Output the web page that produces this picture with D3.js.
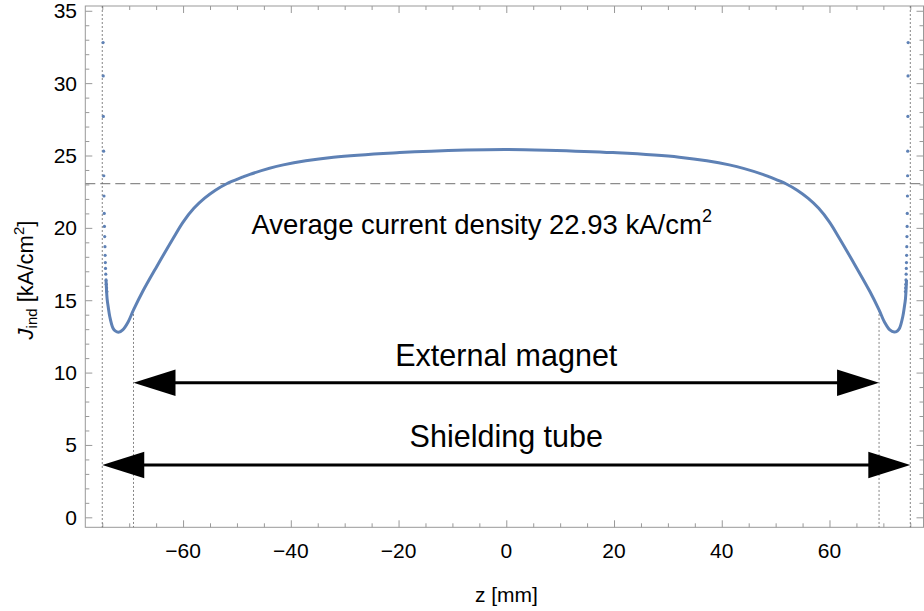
<!DOCTYPE html>
<html>
<head>
<meta charset="utf-8">
<script src="https://cdn.jsdelivr.net/npm/d3@7"></script>
<style>
  body { margin: 0; background: #fff; }
  svg { display: block; font-family: "Liberation Sans", Arial, sans-serif; }
</style>
</head>
<body>
<div id="vis"></div>
<script>
// frame
const FRAME_WIDTH = 924;
const FRAME_HEIGHT = 611;
const PLOT = {left: 85.3, right: 923.5, top: 6, bottom: 527.3};

// data
// main curve, z in mm, J in kA/cm^2
const curveZ = [-74.3, -74.1, -73.9, -73.6, -73.0, -72.6, -72.0, -71.2, -70.2, -69.2, -67.5, -64.9, -61.8, -60.0, -58.0, -56.0, -54.0, -51.9, -49.0, -47.6, -41.4, -32.1, -19.8, -7.4, 0,
                7.4, 19.8, 32.1, 41.4, 47.6, 49.0, 51.9, 54.0, 56.0, 58.0, 60.0, 61.8, 64.9, 67.5, 69.2, 70.2, 71.2, 72.0, 72.6, 73.0, 73.6, 73.9, 74.1, 74.3];
const curveJ = [16.4, 15.1, 14.55, 13.86, 13.06, 12.88, 12.78, 12.95, 13.5, 14.33, 15.6, 17.32, 19.3, 20.4, 21.35, 22.05, 22.6, 23.05, 23.5, 23.7, 24.35, 24.88, 25.2, 25.38, 25.42,
                25.37, 25.2, 24.88, 24.35, 23.7, 23.5, 23.05, 22.6, 22.05, 21.35, 20.4, 19.3, 17.32, 15.6, 14.33, 13.5, 12.95, 12.8, 12.88, 13.06, 13.86, 14.55, 15.1, 16.4];

// sparse sample points close to the tube walls
const wallJ = [32.8, 30.5, 27.7, 25.3, 23.6, 22.2, 21.0, 20.1, 19.4, 18.7, 18.1, 17.6, 17.2, 16.8, 16.4, 16.1, 15.85, 15.6];
const leftWallZ = [-74.85, -74.82, -74.8, -74.75, -74.72, -74.68, -74.63, -74.6, -74.55, -74.5, -74.47, -74.43, -74.4, -74.35, -74.3, -74.25, -74.2, -74.15];
const rightWallZ = [74.6, 74.58, 74.55, 74.52, 74.5, 74.47, 74.44, 74.41, 74.38, 74.35, 74.32, 74.29, 74.26, 74.23, 74.2, 74.17, 74.14, 74.1];

const averageJ = 23.05;
const averageLabel = "Average current density 22.93 kA/cm";

// tube ends and magnet ends
const tubeEnds = [-75, 75];
const magnetEnds = [-69.2, 69.2];
const magnetEndJ = 14.33;

const arrowLabels = ["External magnet", "Shielding tube"];
const arrowFrom = [-69.2, -75];
const arrowTo = [69.2, 75];
const arrowJ = [9.3, 3.61];
const arrowLabelJ = [10.44, 4.84];

const xTicks = [-60, -40, -20, 0, 20, 40, 60];
const yTicks = [0, 5, 10, 15, 20, 25, 30, 35];

const BLUE = "#5e81b5";
const FRAME_GRAY = "#999";

const svg = d3.select("#vis")
  .append("svg")
    .attr("width", FRAME_WIDTH)
    .attr("height", FRAME_HEIGHT);

const X_SCALE = d3.scaleLinear()
  .domain([-78.15, 77.45])
  .range([PLOT.left, PLOT.right]);

const Y_SCALE = d3.scaleLinear()
  .domain([-0.69, 35.33])
  .range([PLOT.bottom, PLOT.top]);

// minor ticks
const xMinor = d3.range(-75, 76, 5).filter(v => v % 20 !== 0);
const yMinor = d3.range(0, 36, 1).filter(v => v % 5 !== 0);

function styleAxis(g) {
  g.select(".domain").remove();
  g.selectAll("line").attr("stroke", FRAME_GRAY).attr("stroke-width", 1);
}

// bottom axis (major + minor)
svg.append("g")
  .attr("transform", "translate(0," + PLOT.bottom + ")")
  .call(d3.axisTop(X_SCALE).tickValues(xTicks).tickSize(7).tickFormat(""))
  .call(styleAxis);
svg.append("g")
  .attr("transform", "translate(0," + PLOT.bottom + ")")
  .call(d3.axisTop(X_SCALE).tickValues(xMinor).tickSize(4).tickFormat(""))
  .call(styleAxis);
// top axis (mirror)
svg.append("g")
  .attr("transform", "translate(0," + PLOT.top + ")")
  .call(d3.axisBottom(X_SCALE).tickValues(xTicks).tickSize(7).tickFormat(""))
  .call(styleAxis);
svg.append("g")
  .attr("transform", "translate(0," + PLOT.top + ")")
  .call(d3.axisBottom(X_SCALE).tickValues(xMinor).tickSize(4).tickFormat(""))
  .call(styleAxis);
// left axis
svg.append("g")
  .attr("transform", "translate(" + PLOT.left + ",0)")
  .call(d3.axisRight(Y_SCALE).tickValues(yTicks).tickSize(7).tickFormat(""))
  .call(styleAxis);
svg.append("g")
  .attr("transform", "translate(" + PLOT.left + ",0)")
  .call(d3.axisRight(Y_SCALE).tickValues(yMinor).tickSize(4).tickFormat(""))
  .call(styleAxis);
// right axis (mirror)
svg.append("g")
  .attr("transform", "translate(" + PLOT.right + ",0)")
  .call(d3.axisLeft(Y_SCALE).tickValues(yTicks).tickSize(7).tickFormat(""))
  .call(styleAxis);
svg.append("g")
  .attr("transform", "translate(" + PLOT.right + ",0)")
  .call(d3.axisLeft(Y_SCALE).tickValues(yMinor).tickSize(4).tickFormat(""))
  .call(styleAxis);

// frame
svg.append("rect")
  .attr("x", PLOT.left)
  .attr("y", PLOT.top)
  .attr("width", PLOT.right - PLOT.left)
  .attr("height", PLOT.bottom - PLOT.top)
  .attr("fill", "none")
  .attr("stroke", FRAME_GRAY)
  .attr("stroke-width", 1);

// tick labels
svg.append("g").selectAll("text")
  .data(xTicks)
  .enter()
  .append("text")
    .attr("x", d => X_SCALE(d))
    .attr("y", 558)
    .attr("text-anchor", "middle")
    .attr("font-size", "21px")
    .attr("fill", "#000")
    .text(d => d < 0 ? "\u2212" + Math.abs(d) : d);

svg.append("g").selectAll("text")
  .data(yTicks)
  .enter()
  .append("text")
    .attr("x", 77)
    .attr("y", d => Y_SCALE(d) + 7.5)
    .attr("text-anchor", "end")
    .attr("font-size", "21px")
    .attr("fill", "#000")
    .text(d => d);

// axis titles
svg.append("text")
  .attr("x", (PLOT.left + PLOT.right) / 2 + 2)
  .attr("y", 602)
  .attr("text-anchor", "middle")
  .attr("font-size", "21px")
  .text("z [mm]");

const yTitle = svg.append("text")
  .attr("transform", "translate(33,280) rotate(-90)")
  .attr("text-anchor", "middle")
  .attr("font-size", "22px");
yTitle.append("tspan").attr("font-style", "italic").text("J");
yTitle.append("tspan").attr("font-size", "15px").attr("dy", 4).text("ind");
yTitle.append("tspan").attr("dy", -4).text(" [kA/cm");
yTitle.append("tspan").attr("font-size", "15px").attr("dy", -9).text("2");
yTitle.append("tspan").attr("dy", 9).text("]");

// average line
svg.append("line")
  .attr("x1", PLOT.left)
  .attr("x2", PLOT.right)
  .attr("y1", Y_SCALE(averageJ))
  .attr("y2", Y_SCALE(averageJ))
  .attr("stroke", "#8c8c8c")
  .attr("stroke-width", 1.2)
  .attr("stroke-dasharray", "10,5");

// vertical dotted lines
svg.selectAll(".tube-end")
  .data(tubeEnds)
  .enter()
  .append("line")
    .attr("class", "tube-end")
    .attr("x1", d => X_SCALE(d))
    .attr("x2", d => X_SCALE(d))
    .attr("y1", PLOT.top)
    .attr("y2", PLOT.bottom)
    .attr("stroke", "#666")
    .attr("stroke-width", 0.8)
    .attr("stroke-dasharray", "2,2");

svg.selectAll(".magnet-end")
  .data(magnetEnds)
  .enter()
  .append("line")
    .attr("class", "magnet-end")
    .attr("x1", d => X_SCALE(d))
    .attr("x2", d => X_SCALE(d))
    .attr("y1", Y_SCALE(magnetEndJ))
    .attr("y2", PLOT.bottom)
    .attr("stroke", "#666")
    .attr("stroke-width", 0.8)
    .attr("stroke-dasharray", "2,2");

// the curve
const curveData = curveZ.map((z, i) => ({z: z, j: curveJ[i]}));
const line = d3.line()
  .x(d => X_SCALE(d.z))
  .y(d => Y_SCALE(d.j))
  .curve(d3.curveCatmullRom.alpha(0.5));

svg.append("path")
  .datum(curveData)
  .attr("d", line)
  .attr("fill", "none")
  .attr("stroke", BLUE)
  .attr("stroke-width", 3);

const wallData = wallJ.map((j, i) => ({z: leftWallZ[i], j: j}))
  .concat(wallJ.map((j, i) => ({z: rightWallZ[i], j: j})));

svg.selectAll(".wall-point")
  .data(wallData)
  .enter()
  .append("circle")
    .attr("class", "wall-point")
    .attr("cx", d => X_SCALE(d.z))
    .attr("cy", d => Y_SCALE(d.j))
    .attr("r", 1.6)
    .attr("fill", BLUE);

// average label
const avgText = svg.append("text")
  .attr("x", 251.5)
  .attr("y", Y_SCALE(19.56))
  .attr("font-size", "27.5px")
  .attr("fill", "#000");
avgText.append("tspan").text(averageLabel);
avgText.append("tspan").attr("font-size", "18px").attr("dy", -12).text("2");

// double arrows
const HEAD_LEN = 42;
const HEAD_HALF = 13.3;

arrowLabels.forEach((label, i) => {
  const x1 = X_SCALE(arrowFrom[i]);
  const x2 = X_SCALE(arrowTo[i]);
  const y = Y_SCALE(arrowJ[i]);

  svg.append("line")
    .attr("x1", x1 + HEAD_LEN - 2)
    .attr("x2", x2 - HEAD_LEN + 2)
    .attr("y1", y)
    .attr("y2", y)
    .attr("stroke", "#000")
    .attr("stroke-width", 3);

  svg.append("path")
    .attr("d", "M" + x1 + "," + y + "L" + (x1 + HEAD_LEN) + "," + (y - HEAD_HALF) + "L" + (x1 + HEAD_LEN) + "," + (y + HEAD_HALF) + "Z")
    .attr("fill", "#000");
  svg.append("path")
    .attr("d", "M" + x2 + "," + y + "L" + (x2 - HEAD_LEN) + "," + (y - HEAD_HALF) + "L" + (x2 - HEAD_LEN) + "," + (y + HEAD_HALF) + "Z")
    .attr("fill", "#000");

  svg.append("text")
    .attr("x", (x1 + x2) / 2)
    .attr("y", Y_SCALE(arrowLabelJ[i]))
    .attr("text-anchor", "middle")
    .attr("font-size", "30.5px")
    .attr("fill", "#000")
    .text(label);
});
</script>
</body>
</html>
